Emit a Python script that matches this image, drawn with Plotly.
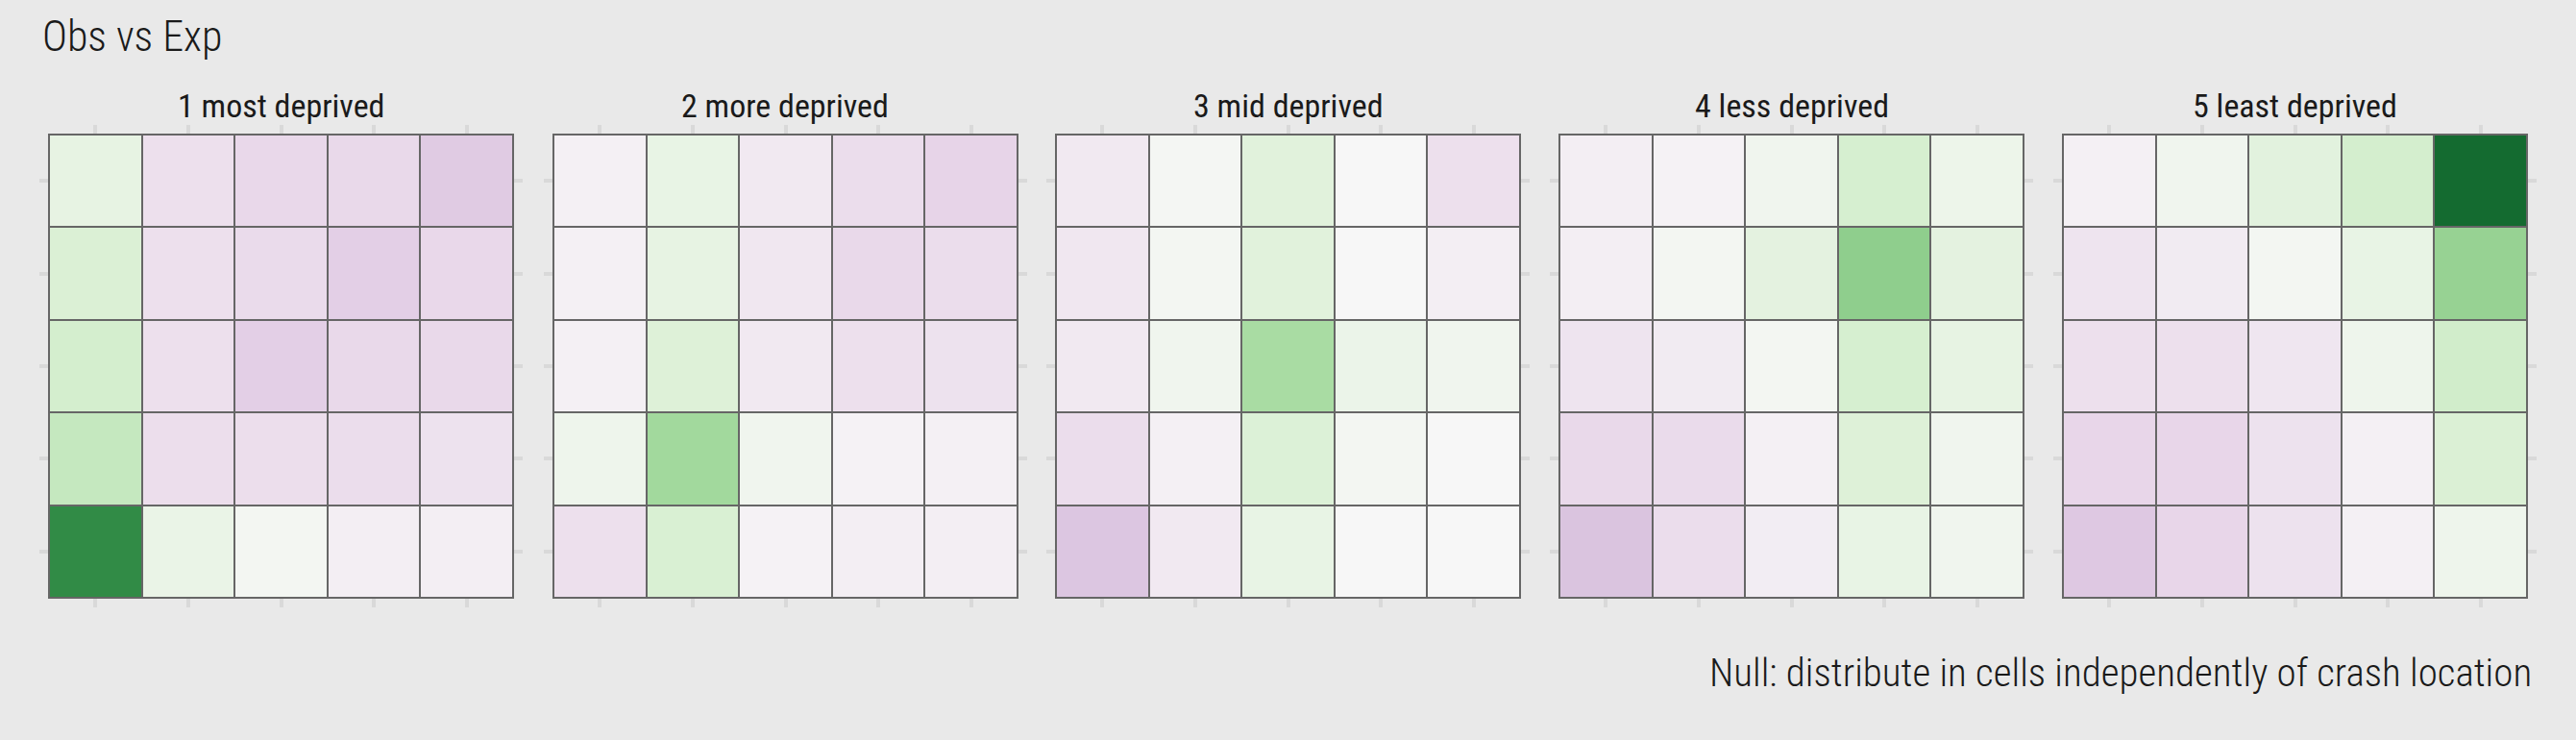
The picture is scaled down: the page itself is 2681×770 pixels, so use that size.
import plotly.graph_objects as go

# ---------------- data ----------------
panels = ["1 most deprived", "2 more deprived", "3 mid deprived", "4 less deprived", "5 least deprived"]
x_cells = [1, 2, 3, 4, 5]
y_cells = [1, 2, 3, 4, 5]

# signed obs-vs-exp signal, rows listed from y=1 (bottom) to y=5 (top)
panel_1 = [
    [0.73, 0.09, 0.03, -0.05, -0.05],
    [0.28, -0.14, -0.14, -0.15, -0.12],
    [0.22, -0.13, -0.22, -0.17, -0.17],
    [0.19, -0.13, -0.16, -0.22, -0.18],
    [0.11, -0.13, -0.18, -0.17, -0.24],
]
panel_2 = [
    [-0.13, 0.20, -0.03, -0.05, -0.05],
    [0.06, 0.41, 0.05, -0.03, -0.04],
    [-0.04, 0.17, -0.08, -0.13, -0.12],
    [-0.04, 0.11, -0.09, -0.17, -0.15],
    [-0.04, 0.10, -0.08, -0.15, -0.20],
]
panel_3 = [
    [-0.26, -0.08, 0.10, 0.00, 0.00],
    [-0.15, -0.04, 0.18, 0.03, 0.00],
    [-0.08, 0.05, 0.39, 0.08, 0.05],
    [-0.09, 0.03, 0.15, 0.00, -0.05],
    [-0.08, 0.02, 0.15, 0.00, -0.13],
]
panel_4 = [
    [-0.27, -0.15, -0.06, 0.10, 0.05],
    [-0.17, -0.16, -0.04, 0.17, 0.05],
    [-0.11, -0.07, 0.03, 0.21, 0.11],
    [-0.05, 0.03, 0.13, 0.46, 0.13],
    [-0.05, -0.03, 0.05, 0.21, 0.07],
]
panel_5 = [
    [-0.25, -0.19, -0.12, -0.04, 0.06],
    [-0.19, -0.19, -0.12, -0.04, 0.19],
    [-0.13, -0.13, -0.10, 0.06, 0.23],
    [-0.11, -0.07, 0.03, 0.10, 0.44],
    [-0.04, 0.05, 0.14, 0.22, 0.85],
]
panel_values = [panel_1, panel_2, panel_3, panel_4, panel_5]

title_text = "Obs vs Exp"
caption_text = "Null: distribute in cells independently of crash location"

# ---------------- styling ----------------
W, H = 2681, 770
BG = "#e9e9e9"
BORDER = "#666666"
TICK = "#d9d9d9"
FONT = "Roboto Condensed, Roboto, Liberation Sans Narrow, sans-serif"

prgn = ["#40004b", "#762a83", "#9970ab", "#c2a5cf", "#e7d4e8", "#f7f7f7",
        "#d9f0d3", "#a6dba0", "#5aae61", "#1b7837", "#00441b"]
colorscale = [[i / 10, c] for i, c in enumerate(prgn)]

panel_left_px = [51, 576, 1099, 1623, 2147]
panel_w_px = 483
panel_top_px, panel_bot_px = 140, 622

fig = go.Figure()
for i, (name, z) in enumerate(zip(panels, panel_values)):
    n = "" if i == 0 else str(i + 1)
    fig.add_trace(go.Heatmap(
        x=x_cells, y=y_cells, z=z,
        zmin=-1, zmax=1, colorscale=colorscale, showscale=False,
        xgap=2, ygap=2, hoverinfo="skip",
        xaxis="x" + n, yaxis="y" + n,
    ))
    x0 = panel_left_px[i] / W
    x1 = (panel_left_px[i] + panel_w_px) / W
    axis_common = dict(
        range=[0.5, 5.5], tickvals=x_cells, showticklabels=False,
        ticks="outside", ticklen=9, tickwidth=4, tickcolor=TICK,
        mirror="ticks", showgrid=False, zeroline=False, showline=False,
        fixedrange=True,
    )
    fig.update_layout(**{
        "xaxis" + n: dict(domain=[x0, x1], anchor="y" + n, **axis_common),
        "yaxis" + n: dict(domain=[1 - panel_bot_px / H, 1 - panel_top_px / H],
                          anchor="x" + n, **axis_common),
    })
    fig.add_shape(type="rect", xref="x" + n + " domain", yref="y" + n + " domain",
                  x0=0, x1=1, y0=0, y1=1, line=dict(color=BORDER, width=2),
                  fillcolor="rgba(0,0,0,0)", layer="above")
    fig.add_annotation(text=name, xref="paper", yref="paper",
                       x=(x0 + x1) / 2, y=1 - 110 / H, xanchor="center", yanchor="middle",
                       showarrow=False, font=dict(family=FONT, size=34, color="#1a1a1a"))

fig.add_annotation(text=title_text, xref="paper", yref="paper",
                   x=42 / W, y=1 - 38 / H, xanchor="left", yanchor="middle",
                   showarrow=False,
                   font=dict(family=FONT, size=44, color="#1a1a1a", weight=300))
fig.add_annotation(text=caption_text, xref="paper", yref="paper",
                   x=2637 / W, y=1 - 700 / H, xanchor="right", yanchor="middle",
                   showarrow=False,
                   font=dict(family=FONT, size=41, color="#1a1a1a", weight=300))

fig.update_layout(
    width=W, height=H,
    margin=dict(l=0, r=0, t=0, b=0),
    paper_bgcolor=BG, plot_bgcolor=BORDER,
    showlegend=False,
)

fig.write_html(
    "out.html",
    config={"displayModeBar": False, "staticPlot": True},
    post_script="document.body.style.margin='0';document.body.style.background='%s';" % BG,
)
